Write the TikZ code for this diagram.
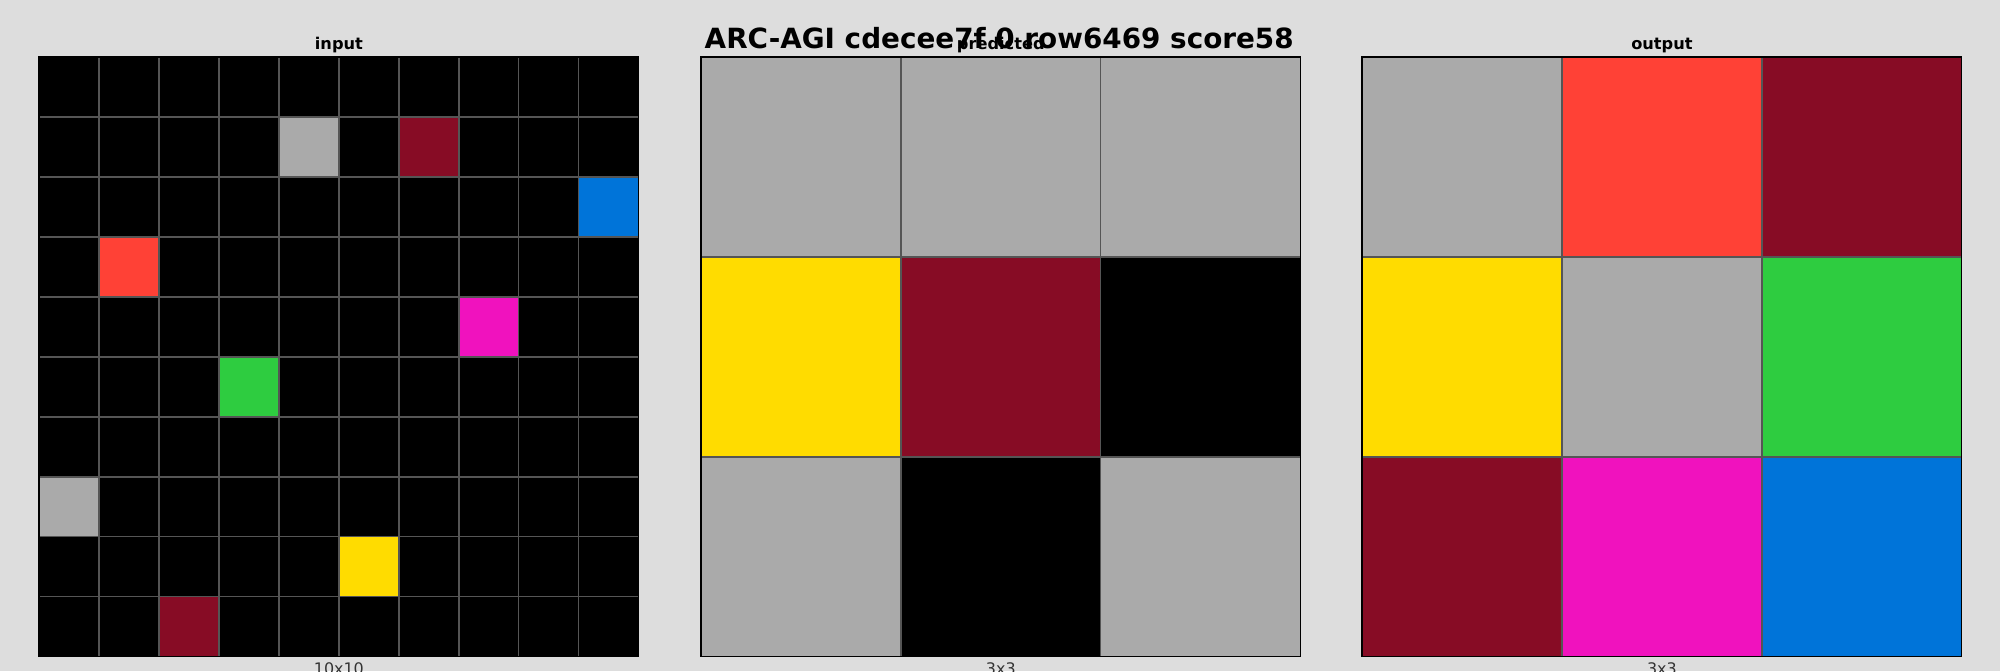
\documentclass[tikz,border=0pt]{standalone}
\usepackage{fontspec}
\setmainfont{DejaVu Sans}
\usepackage{tikz}
\usetikzlibrary{positioning}
\usepackage{xcolor}
\definecolor{bgc}{RGB}{221,221,221}
\definecolor{arcgray}{HTML}{AAAAAA}
\definecolor{arcmaroon}{HTML}{870C25}
\definecolor{arcblue}{HTML}{0074D9}
\definecolor{arcred}{HTML}{FF4136}
\definecolor{arcmag}{HTML}{F012BE}
\definecolor{arcgreen}{HTML}{2ECC40}
\definecolor{arcyellow}{HTML}{FFDC00}
\definecolor{linec}{RGB}{85,85,85}
\definecolor{lblc}{RGB}{51,51,51}

\begin{document}
\begin{tikzpicture}[x=0.01in,y=-0.01in,
  cellline/.style={linec,line width=1.1pt},
  frame/.style={black,line width=1.2pt},
  ttl/.style={anchor=base,font=\fontsize{11.7}{14}\selectfont\bfseries},
  sizelbl/.style={anchor=base,text=lblc,font=\fontsize{11.5}{14}\selectfont}]
\useasboundingbox[fill=bgc] (0,0) rectangle (2000,671);

% input 10x10
\fill[black] (39.3,57.3) rectangle +(599.2,599.2);
\foreach \r/\c/\col in {1/4/arcgray,1/6/arcmaroon,2/9/arcblue,3/1/arcred,4/7/arcmag,
    5/3/arcgreen,7/0/arcgray,8/5/arcyellow,9/2/arcmaroon}
  \fill[\col] ({39.3+59.92*\c},{57.3+59.92*\r}) rectangle +(59.92,59.92);
\foreach \i in {1,...,9} {
  \draw[cellline] ({39.3+59.92*\i},57.3) -- +(0,599.2);
  \draw[cellline] (39.3,{57.3+59.92*\i}) -- +(599.2,0);
}
\draw[frame] (39.3,57.3) rectangle +(599.2,599.2);
\node[ttl] (intitle) at (338.9,49.3) {input};
\node[sizelbl] (insize) at (338.9,674) {10x10};

% predicted 3x3
\foreach \r/\c/\col in {0/0/arcgray,0/1/arcgray,0/2/arcgray,1/0/arcyellow,1/1/arcmaroon,
    1/2/black,2/0/arcgray,2/1/black,2/2/arcgray}
  \fill[\col] ({701.2+199.73*\c},{57.3+199.73*\r}) rectangle +(199.73,199.73);
\foreach \i in {1,2} {
  \draw[cellline] ({701.2+199.73*\i},57.3) -- +(0,599.2);
  \draw[cellline] (701.2,{57.3+199.73*\i}) -- +(599.2,0);
}
\draw[frame] (701.2,57.3) rectangle +(599.2,599.2);
\node[ttl] (predtitle) at (1000.8,49.3) {predicted};
\node[sizelbl] (predsize) at (1000.8,674) {3x3};

% output 3x3
\foreach \r/\c/\col in {0/0/arcgray,0/1/arcred,0/2/arcmaroon,1/0/arcyellow,1/1/arcgray,
    1/2/arcgreen,2/0/arcmaroon,2/1/arcmag,2/2/arcblue}
  \fill[\col] ({1362.3+199.73*\c},{57.3+199.73*\r}) rectangle +(199.73,199.73);
\foreach \i in {1,2} {
  \draw[cellline] ({1362.3+199.73*\i},57.3) -- +(0,599.2);
  \draw[cellline] (1362.3,{57.3+199.73*\i}) -- +(599.2,0);
}
\draw[frame] (1362.3,57.3) rectangle +(599.2,599.2);
\node[ttl] (outtitle) at (1661.9,49.3) {output};
\node[sizelbl] (outsize) at (1661.9,674) {3x3};

\node[anchor=base,font=\fontsize{20.1}{24}\selectfont\bfseries] (title) at (999.2,48.6)
  {ARC-AGI cdecee7f 0 row6469 score58};
\end{tikzpicture}
\end{document}
